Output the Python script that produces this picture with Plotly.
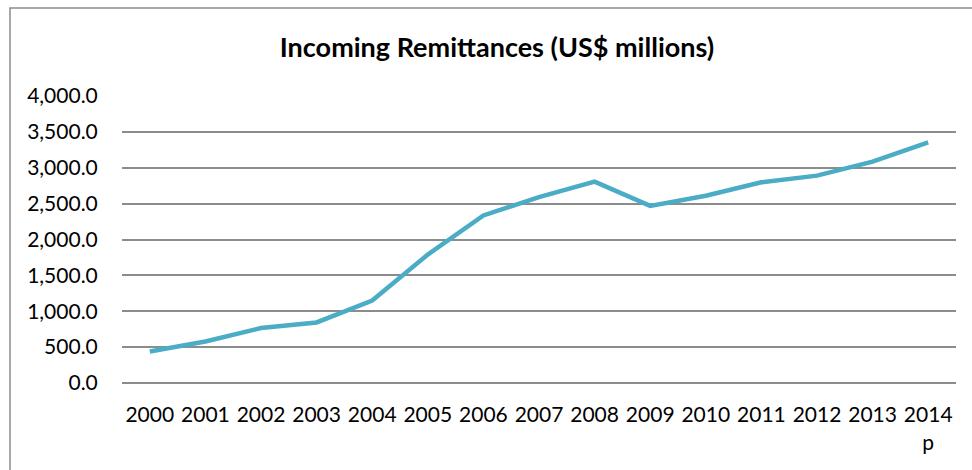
import plotly.graph_objects as go

years = ["2000", "2001", "2002", "2003", "2004", "2005", "2006", "2007",
         "2008", "2009", "2010", "2011", "2012", "2013", "2014"]
tick_labels = ["2000", "2001", "2002", "2003", "2004", "2005", "2006", "2007",
               "2008", "2009", "2010", "2011", "2012", "2013", "2014<br>p"]
remittances = [440, 579, 766, 844, 1150, 1790, 2335, 2590, 2806, 2468,
               2610, 2798, 2890, 3085, 3354]
y_ticks = [0, 500, 1000, 1500, 2000, 2500, 3000, 3500, 4000]

FONT = "Lato, 'Open Sans', sans-serif"

fig = go.Figure()
fig.add_trace(go.Scatter(
    x=years, y=remittances, mode="lines",
    line=dict(color="#4BACC6", width=4.5),
    hoverinfo="x+y", showlegend=False,
))

fig.update_layout(
    width=972, height=470,
    margin=dict(l=122, r=16, t=96, b=87),
    paper_bgcolor="white", plot_bgcolor="white",
    font=dict(family=FONT, size=20, color="#000000"),
    title=dict(text="<b>Incoming Remittances (US$ millions)</b>",
               x=497/972, xref="container", xanchor="center",
               y=1 - 48/470, yref="container", yanchor="middle",
               font=dict(family=FONT, size=27, color="#000000")),
    xaxis=dict(
        type="category", categoryorder="array", categoryarray=years,
        range=[-0.5, 14.5],
        tickmode="array", tickvals=years, ticktext=tick_labels,
        showgrid=False, showline=False, zeroline=False,
        ticks="outside", ticklen=13, tickcolor="rgba(0,0,0,0)",
        tickfont=dict(size=21),
    ),
    yaxis=dict(
        range=[0, 4000], tickmode="array", tickvals=y_ticks,
        tickformat=",.1f", showgrid=True, gridcolor="#8c8c8c", gridwidth=1.6,
        zeroline=True, zerolinecolor="#8c8c8c", zerolinewidth=1.6,
        showline=False, ticks="outside", ticklen=19,
        tickcolor="rgba(0,0,0,0)", tickfont=dict(size=21),
    ),
    shapes=[dict(type="rect", xref="paper", yref="paper",
                 x0=(10 - 122) / 834, x1=(990 - 122) / 834,
                 y0=(383 - 490) / 287, y1=(383 - 8) / 287,
                 line=dict(color="#8c8c8c", width=1.5),
                 fillcolor="rgba(0,0,0,0)", layer="below")],
)

fig.write_html("out.html")
